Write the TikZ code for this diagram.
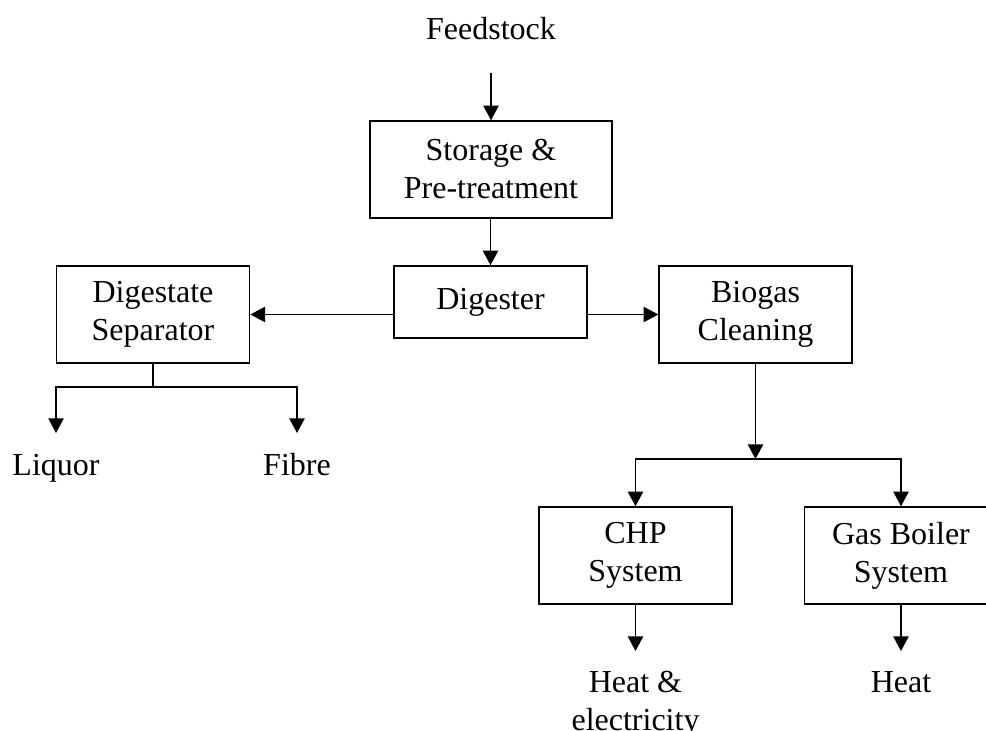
\documentclass[tikz,border=0pt]{standalone}
\usepackage{fontspec}
\setmainfont{Liberation Serif}
\usetikzlibrary{arrows.meta}
\begin{document}
\begin{tikzpicture}[x=0.75pt,y=-0.75pt,
  every node/.style={font=\fontsize{24pt}{28.5pt}\selectfont, inner sep=0pt},
  box/.style={draw, line width=1.1pt, align=center, minimum width=145pt, minimum height=72.75pt},
  lbl/.style={anchor=base, align=center},
  conn/.style={line width=1.1pt},
  arr/.style={conn, -{Triangle[length=11pt,width=11.5pt]}}]
\useasboundingbox (0,0) rectangle (986,731);
\clip (0,0) rectangle (986,731);

\node[lbl] (feed) at (491,40) {Feedstock};
\node[box, minimum width=181.5pt] (stor) at (491,169.5) {Storage \&\\Pre-treatment};
\node[box, minimum width=144.75pt, minimum height=54pt] (dig) at (490.5,302) {Digester};
\node[box] (sep) at (153,314.5) {Digestate\\Separator};
\node[box, minimum width=144.75pt] (bio) at (755.5,314.5) {Biogas\\Cleaning};
\node[box, minimum width=144.75pt] (chp) at (635.5,555.5) {CHP\\System};
\node[box] (gb) at (901,555.5) {Gas Boiler\\System};

\node[lbl] (liq) at (56,475) {Liquor};
\node[lbl] (fib) at (297,475) {Fibre};
\node[lbl] (he) at (635.5,730) {Heat \&\\electricity};
\node[lbl] (heat) at (901,692) {Heat};

\coordinate (fa) at (491,73);
\coordinate (sj) at (153,387);
\coordinate (la) at (56,433);
\coordinate (fa2) at (297,433);
\coordinate (bj) at (755.5,459);
\coordinate (hea) at (635.5,651);
\coordinate (ha) at (901,651);

\draw[arr] (fa) -- (stor.north);
\draw[arr] (stor.south -| dig.north) -- (dig.north);
\draw[arr] (dig.west |- sep.east) -- (sep.east);
\draw[arr] (dig.east |- bio.west) -- (bio.west);
\draw[conn] (sep.south) -- (sj);
\draw[arr] (sj) -| (la);
\draw[arr] (sj) -| (fa2);
\draw[arr] (bio.south) -- (bj);
\draw[arr] (bj) -| (chp.north);
\draw[arr] (bj) -| (gb.north);
\draw[arr] (chp.south) -- (hea);
\draw[arr] (gb.south) -- (ha);
\end{tikzpicture}
\end{document}
